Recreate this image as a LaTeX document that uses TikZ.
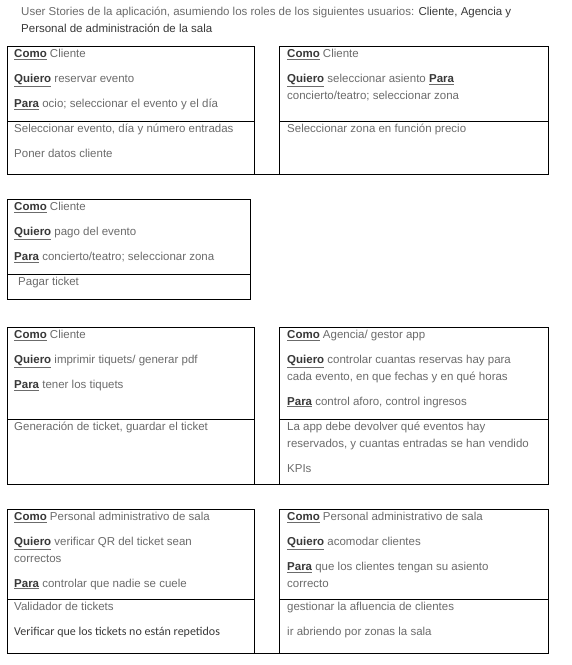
\documentclass[tikz,border=0pt]{standalone}
\usepackage{fontspec}
\setmainfont{Liberation Sans}
\newfontfamily\notefont{Carlito}
\definecolor{textgray}{HTML}{6B6B6B}
\definecolor{keygray}{HTML}{383838}
\newcommand\kw[1]{\underline{\textcolor{keygray}{\bfseries #1}}}
\begin{document}
\begin{tikzpicture}[x=1pt,y=-1pt,
		cell/.style={draw, line width=1pt, anchor=north west, inner sep=0pt, outer sep=0pt},
		txt/.style={anchor=north west, inner sep=0pt, align=left, text=textgray,
			font=\fontsize{11.5}{16.5}\selectfont}]
		\useasboundingbox (0,0) rectangle (572,665);
		% heading
		\node[txt] (head) at (21,7) {User Stories de la aplicaci\'on, asumiendo los roles de los siguientes usuarios: \textcolor{keygray}{Cliente, Agencia y}\\
			\textcolor{keygray}{Personal de administraci\'on de la sala}};
		% row 1
		\node[cell, minimum width=247, minimum height=75] (c1a) at (7,46) {};
		\node[cell, minimum width=247, minimum height=53] (c1b) at (c1a.south west) {};
		\node[cell, minimum width=269, minimum height=75] (c2a) at (279,46) {};
		\node[cell, minimum width=269, minimum height=53] (c2b) at (c2a.south west) {};
		\draw[line width=1pt] (c1b.south east) -- (c2b.south west);
		\node[txt] (t1a) at ([shift={(7,3)}]c1a.north west) {\kw{Como} Cliente\\[8.5pt]
			\kw{Quiero} reservar evento\\[8.5pt]
			\kw{Para} ocio; seleccionar el evento y el d\'ia};
		\node[txt] (t1b) at ([shift={(7,3)}]c1b.north west) {Seleccionar evento, d\'ia y n\'umero entradas\\[8.5pt]
			Poner datos cliente};
		\node[txt] (t2a) at ([shift={(8,3)}]c2a.north west) {\kw{Como} Cliente\\[8.5pt]
			\kw{Quiero} seleccionar asiento \kw{Para}\\
			concierto/teatro; seleccionar zona};
		\node[txt] (t2b) at ([shift={(8,3)}]c2b.north west) {Seleccionar zona en funci\'on precio};
		% row 2
		\node[cell, minimum width=243, minimum height=75] (c3a) at (7,199) {};
		\node[cell, minimum width=243, minimum height=25] (c3b) at (c3a.south west) {};
		\node[txt] (t3a) at ([shift={(7,3)}]c3a.north west) {\kw{Como} Cliente\\[8.5pt]
			\kw{Quiero} pago del evento\\[8.5pt]
			\kw{Para} concierto/teatro; seleccionar zona};
		\node[txt] (t3b) at ([shift={(11,3)}]c3b.north west) {Pagar ticket};
		% row 3
		\node[cell, minimum width=247, minimum height=92] (c4a) at (7,327) {};
		\node[cell, minimum width=247, minimum height=65] (c4b) at (c4a.south west) {};
		\node[cell, minimum width=269, minimum height=92] (c5a) at (279,327) {};
		\node[cell, minimum width=269, minimum height=65] (c5b) at (c5a.south west) {};
		\draw[line width=1pt] (c4b.south east) -- (c5b.south west);
		\node[txt] (t4a) at ([shift={(7,3)}]c4a.north west) {\kw{Como} Cliente\\[8.5pt]
			\kw{Quiero} imprimir tiquets/ generar pdf\\[8.5pt]
			\kw{Para} tener los tiquets};
		\node[txt] (t4b) at ([shift={(7,3)}]c4b.north west) {Generaci\'on de ticket, guardar el ticket};
		\node[txt] (t5a) at ([shift={(8,3)}]c5a.north west) {\kw{Como} Agencia/ gestor app\\[8.5pt]
			\kw{Quiero} controlar cuantas reservas hay para\\
			cada evento, en que fechas y en qu\'e horas\\[8.5pt]
			\kw{Para} control aforo, control ingresos};
		\node[txt] (t5b) at ([shift={(8,3)}]c5b.north west) {La app debe devolver qu\'e eventos hay\\
			reservados, y cuantas entradas se han vendido\\[8.5pt]
			KPIs};
		% row 4
		\node[cell, minimum width=247, minimum height=90] (c6a) at (7,509) {};
		\node[cell, minimum width=247, minimum height=54] (c6b) at (c6a.south west) {};
		\node[cell, minimum width=269, minimum height=90] (c7a) at (279,509) {};
		\node[cell, minimum width=269, minimum height=54] (c7b) at (c7a.south west) {};
		\draw[line width=1pt] (c6b.south east) -- (c7b.south west);
		\node[txt] (t6a) at ([shift={(7,3)}]c6a.north west) {\kw{Como} Personal administrativo de sala\\[8.5pt]
			\kw{Quiero} verificar QR del ticket sean\\
			correctos\\[8.5pt]
			\kw{Para} controlar que nadie se cuele};
		\node[txt] (t6b) at ([shift={(7,3)}]c6b.north west) {Validador de tickets\\[8.5pt]
			{\notefont\fontsize{12}{16.5}\selectfont\color{keygray}Verificar que los tickets no est\'an repetidos}};
		\node[txt] (t7a) at ([shift={(8,3)}]c7a.north west) {\kw{Como} Personal administrativo de sala\\[8.5pt]
			\kw{Quiero} acomodar clientes\\[8.5pt]
			\kw{Para} que los clientes tengan su asiento\\
			correcto};
		\node[txt] (t7b) at ([shift={(8,3)}]c7b.north west) {gestionar la afluencia de clientes\\[8.5pt]
			ir abriendo por zonas la sala};
\end{tikzpicture}
\end{document}
